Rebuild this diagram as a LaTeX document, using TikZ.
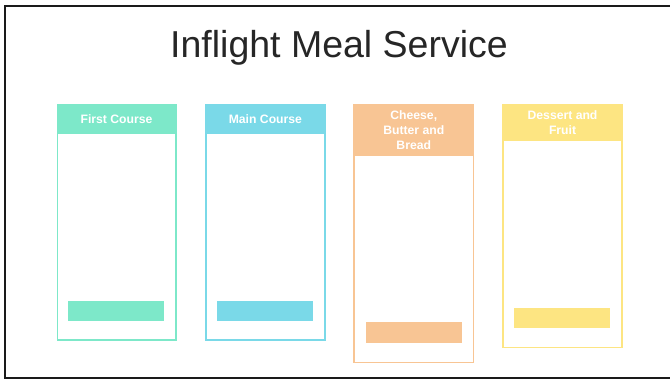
\documentclass[tikz,border=0pt]{standalone}
\usepackage{fontspec}
\setmainfont{Liberation Sans}
\definecolor{cgreen}{HTML}{7DE8C9}
\definecolor{cblue}{HTML}{7AD9E8}
\definecolor{corange}{HTML}{F8C594}
\definecolor{cyellow}{HTML}{FDE582}
\definecolor{frame}{HTML}{1A1A1A}
\tikzset{
  col/.style={draw=#1, line width=1.5pt, anchor=north west, inner sep=0pt, fill=white},
  head/.style={fill=#1, draw=#1, line width=1.5pt, anchor=north west, inner sep=0pt, text=white,
    font=\bfseries\fontsize{12.2}{14.8}\selectfont, align=center},
  bar/.style={fill=#1, draw=none, anchor=north west, inner sep=0pt},
  ttl/.style={font=\fontsize{37.5}{42}\selectfont, text=black!85, inner sep=0pt}
}
\begin{document}
\begin{tikzpicture}[x=1pt,y=-1pt]
\useasboundingbox (0,0) rectangle (670,379);
\fill[white] (0,0) rectangle (670,379);
\draw[frame, line width=2.2pt] (670,6) -- (5.2,6) -- (5.2,378.4) -- (670,378.4);
\node[ttl] (title) at (339,47.5) {Inflight Meal Service};
% column 1
\node[col=cgreen, minimum width=118.5pt, minimum height=235pt] (c1) at (56.5,104.3) {};
\node[head=cgreen, minimum width=118.5pt, minimum height=28.4pt] (h1) at (c1.north west) {First Course};
\node[bar=cgreen, minimum width=96.4pt, minimum height=20pt] (b1) at (67.3,301) {};
% column 2
\node[col=cblue, minimum width=118.7pt, minimum height=235pt] (c2) at (205.3,104.3) {};
\node[head=cblue, minimum width=118.7pt, minimum height=28.4pt] (h2) at (c2.north west) {Main Course};
\node[bar=cblue, minimum width=95.7pt, minimum height=20pt] (b2) at (217,301) {};
% column 3
\node[col=corange, minimum width=119.4pt, minimum height=257.4pt] (c3) at (353.3,104.3) {};
\node[head=corange, minimum width=119.4pt, minimum height=50.7pt] (h3) at (c3.north west) {Cheese,\\Butter and\\Bread};
\node[bar=corange, minimum width=96pt, minimum height=20.7pt] (b3) at (365.3,322) {};
% column 4
\node[col=cyellow, minimum width=119pt, minimum height=242.4pt] (c4) at (502.3,104.3) {};
\node[head=cyellow, minimum width=119pt, minimum height=35.7pt] (h4) at (c4.north west) {Dessert and\\Fruit};
\node[bar=cyellow, minimum width=95.7pt, minimum height=20.3pt] (b4) at (514,307.7) {};
\end{tikzpicture}
\end{document}
